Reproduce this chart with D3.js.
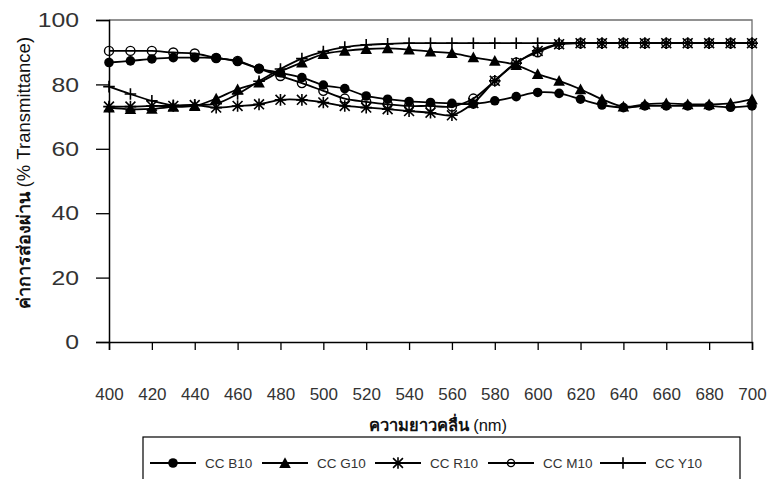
<!DOCTYPE html>
<html>
<head>
<meta charset="utf-8">
<script src="https://cdn.jsdelivr.net/npm/d3@7"></script>
<style>
  html, body { margin: 0; padding: 0; background: #fff; }
  svg { display: block; font-family: Arial, "Liberation Sans", sans-serif; }
</style>
</head>
<body>
<svg id="chart" width="771" height="479"></svg>
<script>
// Wavelengths (nm), one reading every 10 nm
const wavelengths = d3.range(400, 701, 10);
const xTickLabels = d3.range(400, 701, 20);
const yTickLabels = [0, 20, 40, 60, 80, 100];

// % Transmittance for each colour-correction filter
const ccB10 = [86.8, 87.3, 87.9, 88.3, 88.3, 88.2, 87.1, 84.9, 83.6, 82.1, 79.8, 78.7, 76.4, 75.4, 74.7, 74.4, 74.1, 73.9, 74.9, 76.2, 77.5, 77.2, 75.4, 73.6, 72.8, 73.3, 73.3, 73.3, 73.3, 72.9, 73.3];
const ccG10 = [72.8, 72.3, 72.4, 73.0, 73.3, 75.6, 78.5, 80.6, 84.0, 86.8, 89.4, 90.4, 91.0, 91.2, 90.8, 90.2, 89.7, 88.4, 87.3, 86.0, 83.2, 81.1, 78.5, 75.4, 73.1, 73.8, 74.1, 73.8, 73.8, 74.1, 75.4];
const ccR10 = [73.1, 73.1, 73.3, 73.3, 73.6, 72.8, 73.3, 73.8, 75.2, 75.2, 74.4, 73.3, 72.8, 72.3, 71.7, 71.2, 70.4, 74.2, 81.1, 86.6, 90.4, 92.5, 92.8, 92.8, 92.8, 92.8, 92.8, 92.8, 92.8, 92.8, 92.8];
const ccM10 = [90.4, 90.4, 90.4, 89.9, 89.6, 88.2, 87.3, 84.9, 82.6, 80.4, 78.0, 75.6, 74.6, 73.8, 73.3, 73.3, 73.1, 75.6, 81.1, 86.8, 90.0, 92.5, 92.8, 92.8, 92.8, 92.8, 92.8, 92.8, 92.8, 92.8, 92.8];
const ccY10 = [79.3, 77.0, 74.9, 73.5, 73.6, 74.0, 77.0, 81.0, 84.8, 88.0, 90.2, 91.6, 92.3, 92.6, 92.8, 92.8, 92.8, 92.8, 92.8, 92.8, 92.8, 92.8, 92.8, 92.8, 92.8, 92.8, 92.8, 92.8, 92.8, 92.8, 92.8];

const seriesNames = ["CC B10", "CC G10", "CC R10", "CC M10", "CC Y10"];
const seriesValues = [ccB10, ccG10, ccR10, ccM10, ccY10];
const seriesMarkers = ["dot", "triangle", "asterisk", "ring", "plus"];

const svg = d3.select("#chart");
const plot = { left: 109, right: 752, top: 20, bottom: 342 };

const x = d3.scaleLinear().domain([400, 700]).range([plot.left, plot.right]);
const y = d3.scaleLinear().domain([0, 100]).range([plot.bottom, plot.top]);

// plot-area frame (top and right edges)
svg.append("path")
  .attr("d", `M${plot.left},${plot.top}H${plot.right}V${plot.bottom}`)
  .attr("fill", "none").attr("stroke", "#6e6e6e").attr("stroke-width", 1.3);

// y axis
const yAxis = svg.append("g").attr("transform", `translate(${plot.left},0)`)
  .call(d3.axisLeft(y).tickValues(yTickLabels).tickSize(13).tickPadding(17).tickFormat(d3.format("d")));
yAxis.select(".domain").attr("stroke", "#000").attr("stroke-width", 1.5);
yAxis.selectAll(".tick line").attr("stroke", "#000").attr("stroke-width", 1.3);
yAxis.selectAll(".tick text")
  .attr("font-size", 21).attr("fill", "#333")
  .attr("font-family", "Arial, 'Liberation Sans', sans-serif")
  .attr("transform", "scale(1.18,1)")
  .attr("x", -30 / 1.18);

// x axis
const xAxis = svg.append("g").attr("transform", `translate(0,${plot.bottom})`)
  .call(d3.axisBottom(x).tickValues(xTickLabels).tickSize(8).tickPadding(38).tickFormat(d3.format("d")));
xAxis.select(".domain").attr("stroke", "#000").attr("stroke-width", 1.5);
xAxis.selectAll(".tick line").attr("stroke", "#000").attr("stroke-width", 1.3);
xAxis.selectAll(".tick text")
  .attr("font-size", 17).attr("fill", "#333")
  .attr("font-family", "Arial, 'Liberation Sans', sans-serif");

// axis titles
const yTitle = svg.append("text")
  .attr("transform", "translate(30,173) rotate(-90)")
  .attr("text-anchor", "middle").attr("font-size", 18).attr("fill", "#111")
  .attr("font-family", "'Noto Sans', Arial, sans-serif");
yTitle.append("tspan").attr("font-weight", "bold").text("ค่าการส่องผ่าน ");
yTitle.append("tspan").attr("font-family", "Arial, 'Liberation Sans', sans-serif").attr("font-size", 18.5).text("(% Transmittance)");

const xTitle = svg.append("text")
  .attr("x", 438).attr("y", 431).attr("text-anchor", "middle")
  .attr("font-size", 16.5).attr("font-weight", "bold").attr("fill", "#111")
  .attr("font-family", "'Noto Sans', Arial, sans-serif");
xTitle.append("tspan").text("ความยาวคลื่น ");
xTitle.append("tspan").attr("font-family", "Arial, 'Liberation Sans', sans-serif").attr("font-weight", "normal").text("(nm)");

// marker drawing
function drawMarker(g, type, scale) {
  const s = scale || 1;
  if (type === "dot") {
    g.append("circle").attr("r", 4.8 * s).attr("fill", "#000");
  } else if (type === "triangle") {
    const h = 5.8 * s;
    g.append("path").attr("d", `M0,${-h}L${h},${h * 0.85}L${-h},${h * 0.85}Z`).attr("fill", "#000");
  } else if (type === "asterisk") {
    const r = 5.8 * s;
    const d = r * 0.85;
    g.append("path")
      .attr("d", `M${-d},${-d}L${d},${d}M${-d},${d}L${d},${-d}M0,${-r}V${r}M${-r},0H${r}`)
      .attr("stroke", "#000").attr("stroke-width", 1.6).attr("fill", "none");
  } else if (type === "ring") {
    g.append("circle").attr("r", 4.5 * s).attr("fill", "none")
      .attr("stroke", "#000").attr("stroke-width", 1.4);
  } else if (type === "plus") {
    const r = 5.8 * s;
    g.append("path").attr("d", `M0,${-r}V${r}M${-r},0H${r}`)
      .attr("stroke", "#000").attr("stroke-width", 1.6).attr("fill", "none");
  }
}

const line = d3.line()
  .x((d, i) => x(wavelengths[i]))
  .y(d => y(d))
  .curve(d3.curveCatmullRom.alpha(0.5));

const seriesG = svg.append("g");
seriesValues.forEach(vals => {
  seriesG.append("path")
    .attr("d", line(vals))
    .attr("fill", "none").attr("stroke", "#000").attr("stroke-width", 1.8);
});
seriesValues.forEach((vals, k) => {
  const mg = seriesG.append("g");
  vals.forEach((v, i) => {
    const g = mg.append("g").attr("transform", `translate(${x(wavelengths[i])},${y(v)})`);
    drawMarker(g, seriesMarkers[k]);
  });
});

// legend
const legend = svg.append("g");
legend.append("rect").attr("x", 143).attr("y", 437).attr("width", 597).attr("height", 60)
  .attr("fill", "#fff").attr("stroke", "#000").attr("stroke-width", 1.2);
const legendX = [150, 262, 375, 488, 600];
seriesNames.forEach((name, k) => {
  const lg = legend.append("g").attr("transform", `translate(${legendX[k]},463)`);
  lg.append("line").attr("x1", 0).attr("x2", 46).attr("stroke", "#000").attr("stroke-width", 1.8);
  const m = lg.append("g").attr("transform", "translate(23,0)");
  drawMarker(m, seriesMarkers[k], k === 3 ? 0.8 : 1);
  lg.append("text").attr("x", 55).attr("y", 5).attr("font-size", 13.5).attr("fill", "#333")
    .attr("font-family", "Arial, 'Liberation Sans', sans-serif").text(name);
});
</script>
</body>
</html>
